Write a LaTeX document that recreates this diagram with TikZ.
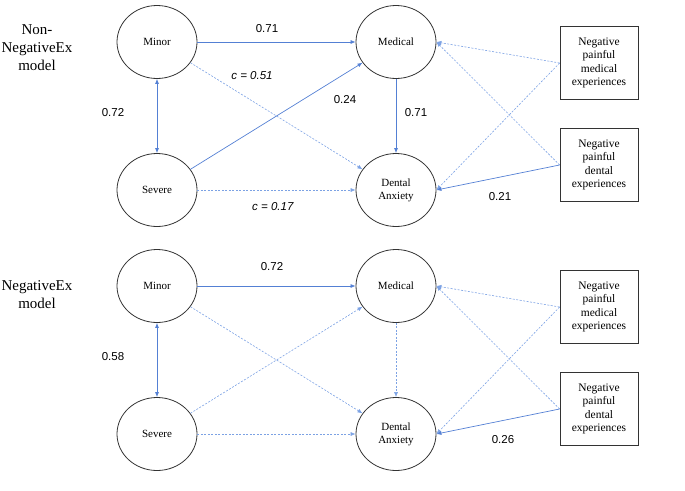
\documentclass[tikz,border=0pt]{standalone}
\usepackage{fontspec}
\setmainfont{Liberation Serif}
\setsansfont{Liberation Sans}
\usepackage{tikz}
\usetikzlibrary{arrows.meta}
\usetikzlibrary{shapes.geometric}
\definecolor{pathblue}{RGB}{84,128,212}
\definecolor{dashblue}{RGB}{124,162,228}
\tikzstyle{latent}=[ellipse, draw=black!80, line width=0.8pt, minimum width=80pt, minimum height=73pt, inner sep=0pt, align=center, font=\fontsize{11}{13}\selectfont]
\tikzstyle{observed}=[rectangle, draw=black!80, line width=0.8pt, minimum width=78pt, minimum height=73pt, inner sep=0pt, align=center, font=\fontsize{11.5}{13.5}\selectfont]
\tikzstyle{modelname}=[align=center, font=\fontsize{15}{18}\selectfont]
\tikzstyle{coef}=[font=\sffamily\fontsize{11.5}{13}\selectfont]
\tikzstyle{sig}=[->, draw=pathblue, line width=0.7pt]
\tikzstyle{nonsig}=[->, draw=dashblue, line width=0.6pt, dash pattern=on 2pt off 1.5pt]
\tikzset{>={Latex[length=5pt,width=4pt]}}

\begin{document}
\begin{tikzpicture}[x=1pt, y=-1pt]
        \useasboundingbox (0,0) rectangle (685,490);

        % Variables, one set per model
        \foreach \m/\dy in {1/0, 2/244} {
          \node at (157, 42+\dy) [latent] (minor_\m) {Minor};
          \node at (157, 190+\dy) [latent] (severe_\m) {Severe};
          \node at (396, 42+\dy) [latent] (medical_\m) {Medical};
          \node at (396, 190+\dy) [latent] (dental_\m) {Dental\\Anxiety};
          \node at (599, 63+\dy) [observed] (painmed_\m) {Negative\\painful\\medical\\experiences};
          \node at (599, 165+\dy) [observed] (paindent_\m) {Negative\\painful\\dental\\experiences};
        }

        % Paths in both models
        \foreach \m in {1,2} {
          \draw [sig] (minor_\m) -- (medical_\m);
          \draw [nonsig] (minor_\m) -- (dental_\m);
          \draw [sig, <->] (minor_\m) -- (severe_\m);
          \draw [nonsig] (severe_\m) -- (dental_\m);
          \draw [nonsig] (painmed_\m.west) -- (medical_\m.east);
          \draw [nonsig] (painmed_\m.west) -- (dental_\m.east);
          \draw [nonsig] (paindent_\m.west) -- (medical_\m.east);
          \draw [sig] (paindent_\m.west) -- (dental_\m.east);
        }

        % Paths that differ
        \draw [sig] (severe_1) -- (medical_1);
        \draw [sig] (medical_1) -- (dental_1);
        \draw [nonsig] (severe_2) -- (medical_2);
        \draw [nonsig] (medical_2) -- (dental_2);

        % Model names
        \node at (37, 48) [modelname] (name_1) {Non-\\NegativeEx\\model};
        \node at (37, 295) [modelname] (name_2) {NegativeEx\\model};

        % Coefficients
        \node at (267, 29) [coef] (coef_minmed_1) {0.71};
        \node at (252, 76) [coef] (coef_mindent_1) {\textit{c = 0.51}};
        \node at (345, 100) [coef] (coef_sevmed_1) {0.24};
        \node at (416, 113) [coef] (coef_meddent_1) {0.71};
        \node at (113, 113) [coef] (coef_minsev_1) {0.72};
        \node at (273, 207) [coef] (coef_sevdent_1) {\textit{c = 0.17}};
        \node at (500, 197) [coef] (coef_paindent_1) {0.21};

        \node at (272, 267) [coef] (coef_minmed_2) {0.72};
        \node at (113, 357) [coef] (coef_minsev_2) {0.58};
        \node at (503, 440) [coef] (coef_paindent_2) {0.26};
      \end{tikzpicture}
\end{document}
